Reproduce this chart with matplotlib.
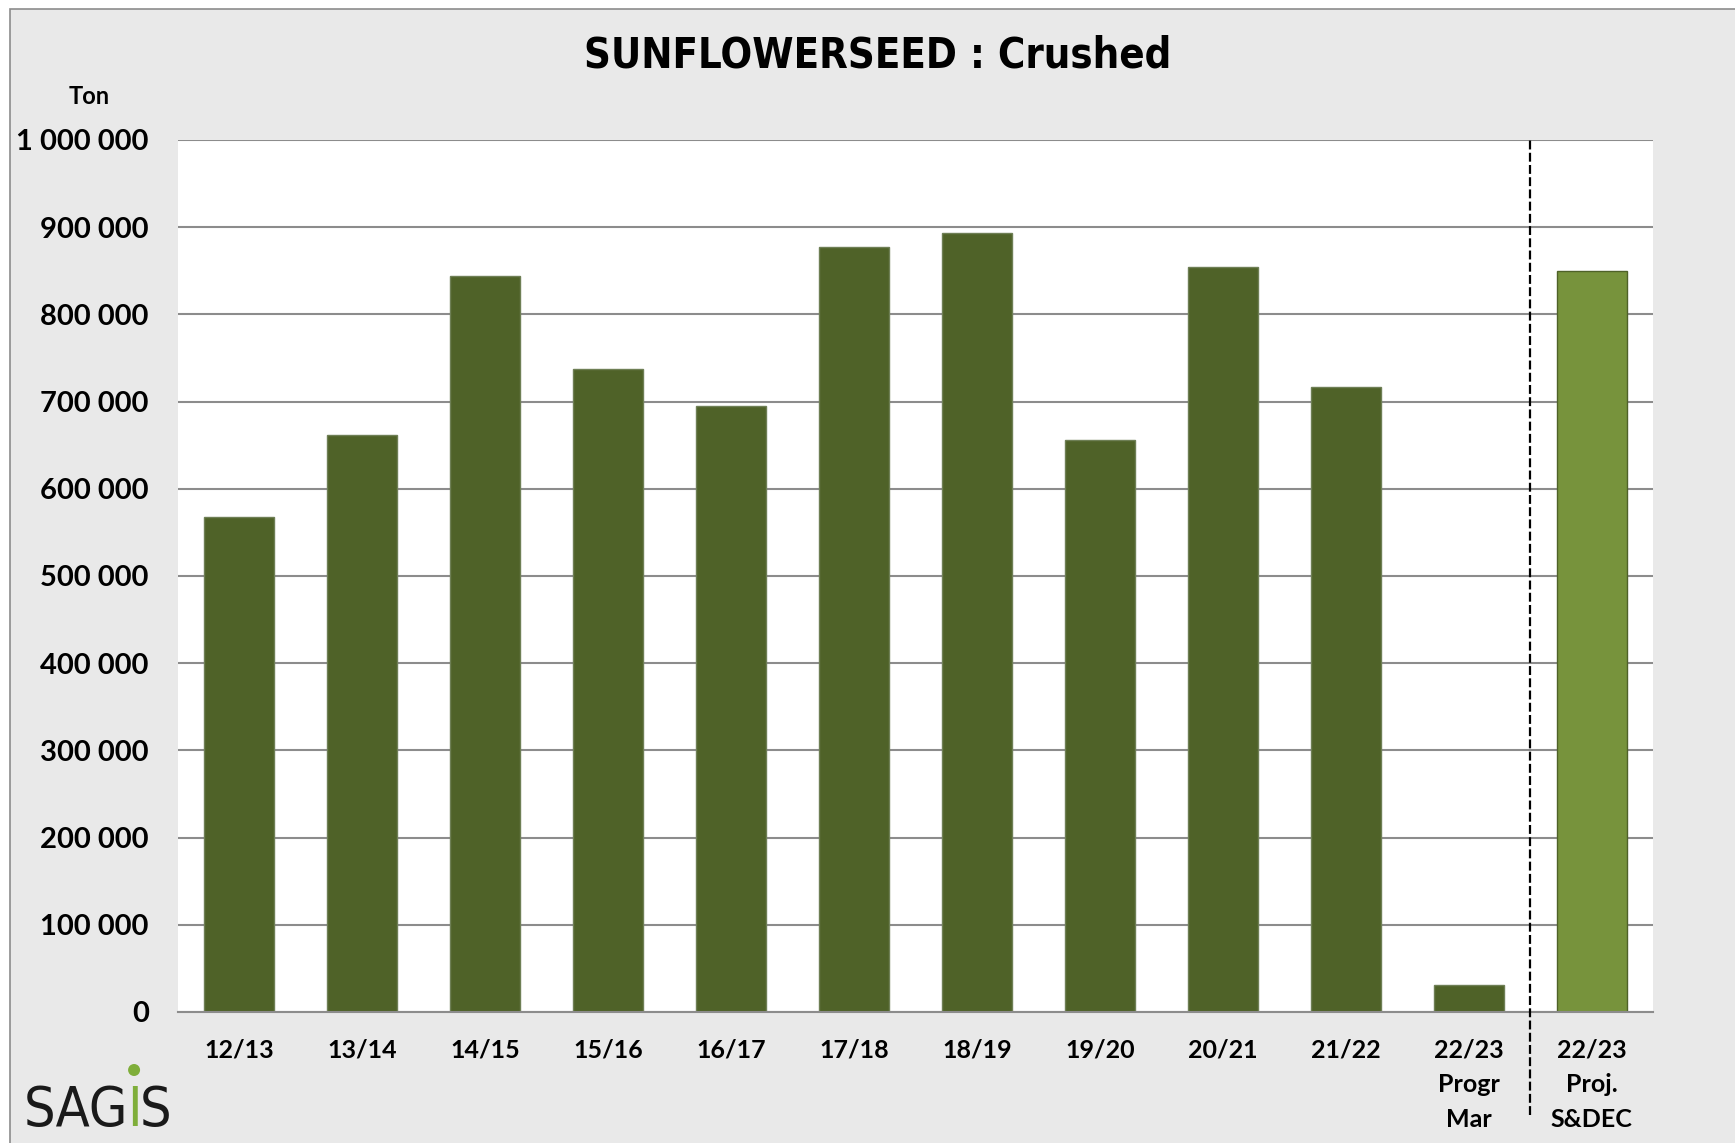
import matplotlib
matplotlib.use('Agg')
import matplotlib.pyplot as plt
from matplotlib.patches import Rectangle, Ellipse

# ---- data ----
categories = ['12/13', '13/14', '14/15', '15/16', '16/17', '17/18', '18/19',
              '19/20', '20/21', '21/22', '22/23\nProgr\nMar', '22/23\nProj.\nS&DEC']
values = [568000, 662000, 844000, 737000, 695000, 877000, 893000,
          656000, 854000, 717000, 31000, 850000]
bar_colors = ['#4F6228'] * 11 + ['#77933C']
edge_colors = ['#6E7F55'] * 11 + ['#4F6228']
yticks = [0, 100000, 200000, 300000, 400000, 500000, 600000, 700000, 800000, 900000, 1000000]
ytick_labels = [f"{v:,}".replace(',', ' ') for v in yticks]
title = 'SUNFLOWERSEED : Crushed'
unit_label = 'Ton'

W, H = 1735, 1143
fig = plt.figure(figsize=(W / 100, H / 100), dpi=100, facecolor='white')

# gray background panel with left/top border
bg = Rectangle((10 / W, -0.1), 1.2, 1 - 9 / H + 0.1, transform=fig.transFigure,
               facecolor='#E9E9E9', edgecolor='#8C8C8C', linewidth=1.2, zorder=-10)
fig.patches.append(bg)

left, right = 178 / W, 1653 / W
bottom, top = 1 - 1012 / H, 1 - 140 / H
ax = fig.add_axes([left, bottom, right - left, top - bottom])
ax.set_facecolor('white')

x = list(range(len(categories)))
ax.bar(x, values, width=0.57, color=bar_colors, edgecolor=edge_colors, linewidth=1.0, zorder=3)

ax.set_xlim(-0.5, len(categories) - 0.5)
ax.set_ylim(0, 1000000)
ax.set_yticks(yticks)
ax.set_yticklabels(ytick_labels, fontfamily='Lato', fontweight='bold', fontsize=21)
ax.set_xticks(x)
ax.set_xticklabels(categories, fontfamily='Lato', fontweight='bold', fontsize=18,
                   linespacing=1.62, va='top')
ax.tick_params(axis='y', length=0, pad=21)
ax.tick_params(axis='x', length=0, pad=19)
ax.grid(axis='y', color='#8C8C8C', linewidth=1.5, zorder=0)
for s in ['left', 'right', 'top']:
    ax.spines[s].set_visible(False)
ax.spines['bottom'].set_color('#8C8C8C')
ax.spines['bottom'].set_linewidth(1.5)
ax.spines['bottom'].set_zorder(4)

# dashed separator between progress and projection
ax.plot([10.5, 10.5], [-0.118, 1.0], transform=ax.get_xaxis_transform(),
        color='black', linestyle=(0, (4, 1.5)), linewidth=1.6, clip_on=False, zorder=5)

fig.text(878 / W, 1 - 56 / H, title, ha='center', va='center',
         fontfamily=['DejaVu Sans'], fontstretch='condensed',
         fontweight='bold', fontsize=30)
fig.text(89 / W, 1 - 96 / H, unit_label, ha='center', va='center',
         fontfamily='Lato', fontweight='bold', fontsize=17)

# SAGIS logo as text
fig.canvas.draw()
renderer = fig.canvas.get_renderer()
logo_font = dict(fontfamily='DejaVu Sans', fontstretch='condensed', fontsize=40,
                 fontweight='normal', va='baseline', ha='left')
base_y = 1 - 1126 / H
t1 = fig.text(24 / W, base_y, 'SAG', color='#1A1A1A', **logo_font)
bb = t1.get_window_extent(renderer)
t2 = fig.text(bb.x1 / W - 0.001, base_y, 'I', color='#7FAE3A', **logo_font)
bb2 = t2.get_window_extent(renderer)
t3 = fig.text(bb2.x1 / W - 0.001, base_y, 'S', color='#1A1A1A', **logo_font)
cx = (bb2.x0 + bb2.x1) / 2
dot = Ellipse((cx / W, 1 - 1070 / H), 12 / W, 12 / H, transform=fig.transFigure,
              facecolor='#7FAE3A', edgecolor='none')
fig.patches.append(dot)

fig.savefig('out.png', dpi=100, facecolor=fig.get_facecolor())
